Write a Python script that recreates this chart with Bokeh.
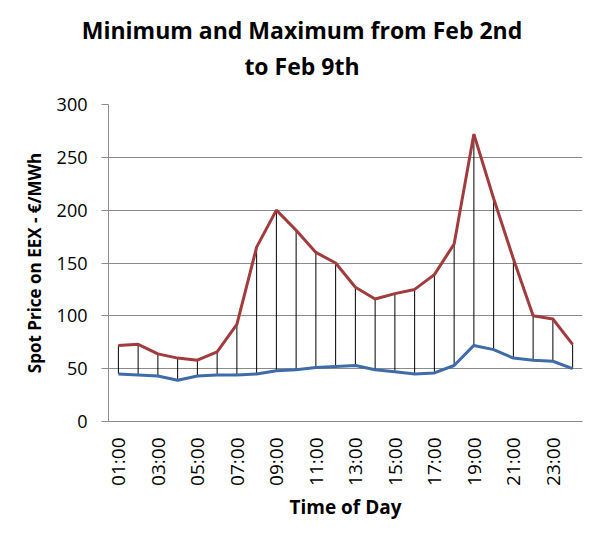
from bokeh.plotting import figure
from bokeh.models import FixedTicker, ColumnDataSource, Range1d, Div
from bokeh.layouts import column
from bokeh.embed import file_html
from bokeh.resources import INLINE
import math

hours = ["01:00", "02:00", "03:00", "04:00", "05:00", "06:00", "07:00", "08:00",
         "09:00", "10:00", "11:00", "12:00", "13:00", "14:00", "15:00", "16:00",
         "17:00", "18:00", "19:00", "20:00", "21:00", "22:00", "23:00", "24:00"]
max_price = [72, 73, 64, 60, 58, 66, 92, 165, 200, 181, 160, 150,
             127, 116, 121, 125, 139, 168, 272, 211, 154, 100, 97, 73]
min_price = [45, 44, 43, 39, 43, 44, 44, 45, 48, 49, 51, 52,
             53, 49, 47, 45, 46, 53, 72, 68, 60, 58, 57, 50]
y_ticks = [0, 50, 100, 150, 200, 250, 300]
title_lines = ["Minimum and Maximum from Feb 2nd", "to Feb 9th"]
x_title = "Time of Day"
y_title = "Spot Price on EEX - \u20ac/MWh"

FONT = "Open Sans"
W, H = 600, 542
TITLE_H = 90

# ---- title block ----
title_html = (
    '<div style="box-sizing:border-box; width:%dpx; padding-top:12px; padding-left:4px; '
    'text-align:center; font-family:\'%s\'; font-weight:bold; font-size:23px; '
    'line-height:36px; color:black;">%s</div>' % (W, FONT, "<br>".join(title_lines))
)
title_div = Div(text=title_html, width=W, height=TITLE_H, margin=0)

# ---- main chart ----
xs = list(range(1, len(hours) + 1))
src = ColumnDataSource(dict(x=xs, hi=max_price, lo=min_price))

p = figure(width=W, height=H - TITLE_H, output_backend="svg", toolbar_location=None,
           x_range=Range1d(0.5, len(hours) + 0.5), y_range=Range1d(0, y_ticks[-1]),
           min_border_left=108, min_border_right=18, min_border_top=104 - TITLE_H,
           min_border_bottom=121)
p.title = None
p.outline_line_color = None
p.background_fill_color = "white"
p.border_fill_color = "white"
p.margin = 0

# drop lines
p.segment(x0="x", y0="lo", x1="x", y1="hi", source=src, line_color="black", line_width=1)
p.line(x="x", y="hi", source=src, line_color="#A23B3D", line_width=3)
p.line(x="x", y="lo", source=src, line_color="#3E6CA8", line_width=3)

# axes
p.xaxis.ticker = FixedTicker(ticks=xs[::2])
p.xaxis.major_label_overrides = {x: h for x, h in zip(xs[::2], hours[::2])}
p.xaxis.major_label_orientation = math.pi / 2
p.xaxis.major_tick_out = 0
p.xaxis.major_tick_in = 0
p.xaxis.minor_tick_line_color = None
p.xaxis.major_label_standoff = 16
p.xaxis.axis_line_color = "#8a8a8a"
p.xaxis.major_label_text_font = FONT
p.xaxis.major_label_text_font_size = "19px"
p.xaxis.major_label_text_color = "black"
p.xaxis.axis_label = x_title
p.xaxis.axis_label_text_font = FONT
p.xaxis.axis_label_text_font_style = "bold"
p.xaxis.axis_label_text_font_size = "19px"
p.xaxis.axis_label_text_color = "black"
p.xaxis.axis_label_standoff = 5

p.yaxis.ticker = FixedTicker(ticks=y_ticks)
p.yaxis.major_tick_out = 7
p.yaxis.major_tick_in = 0
p.yaxis.major_tick_line_color = "#8a8a8a"
p.yaxis.minor_tick_line_color = None
p.yaxis.axis_line_color = "#8a8a8a"
p.yaxis.major_label_standoff = 14
p.yaxis.major_label_text_font = FONT
p.yaxis.major_label_text_font_size = "18px"
p.yaxis.major_label_text_color = "black"
p.yaxis.axis_label = y_title
p.yaxis.axis_label_text_font = FONT
p.yaxis.axis_label_text_font_style = "bold"
p.yaxis.axis_label_text_font_size = "17px"
p.yaxis.axis_label_text_color = "black"
p.yaxis.axis_label_standoff = 8

p.xgrid.grid_line_color = None
p.ygrid.ticker = FixedTicker(ticks=y_ticks)
p.ygrid.grid_line_color = "#8a8a8a"
p.ygrid.grid_line_width = 1

layout = column(title_div, p, spacing=0, margin=0)
open("out.html", "w").write(file_html(layout, INLINE))
